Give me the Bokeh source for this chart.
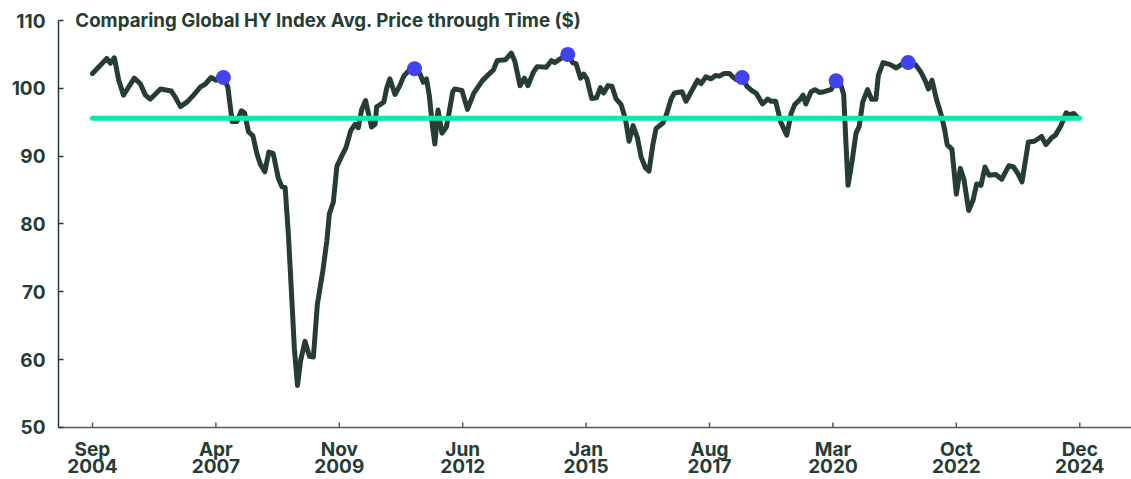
from bokeh.plotting import figure
from bokeh.models import Range1d, FixedTicker, ColumnDataSource
from bokeh.core.properties import value
from bokeh.embed import file_html
from bokeh.resources import INLINE

# ---- data (observation index along the axis, avg. price in $) ----
obs = [0.0, 2.0, 3.6, 4.5, 5.5, 6.6, 7.8, 9.1, 10.5, 12.0, 13.3, 14.5, 17.1, 19.8, 20.8,
       22.1, 23.8, 25.4, 27.1, 28.3, 29.8, 31.1, 32.9, 34.0, 35.1, 36.3, 37.4, 38.2, 39.2,
       40.3, 41.3, 42.1, 43.3, 44.3, 45.4, 46.7, 47.6, 48.4, 49.2, 50.1, 50.7, 51.5, 52.3,
       53.4, 54.5, 55.5, 56.5, 57.9, 58.9, 59.5, 60.5, 61.4, 62.6, 63.7, 64.9, 66.0, 66.8,
       67.6, 68.6, 69.6, 70.1, 71.0, 71.4, 72.3, 73.2, 73.9, 74.7, 76.0, 77.2, 78.2, 79.6,
       80.9, 82.3, 83.1, 83.9, 84.6, 85.4, 86.0, 86.8, 87.8, 88.9, 89.4, 90.5, 91.0, 92.8,
       94.2, 95.8, 97.9, 99.6, 100.7, 101.7, 103.7, 105.2, 106.1, 107.4, 108.5, 109.4,
       110.7, 111.7, 114.0, 115.3, 116.1, 117.4, 119.4, 120.6, 121.5, 122.6, 123.4, 124.2,
       125.4, 126.6, 127.6, 128.4, 129.5, 130.5, 131.5, 132.8, 133.9, 134.8, 135.8, 136.9,
       137.8, 138.9, 139.8, 140.8, 141.6, 143.3, 144.1, 145.4, 146.2, 148.1, 149.1, 150.4,
       152.0, 152.9, 154.1, 155.4, 156.5, 157.5, 158.7, 160.0, 160.8, 161.7, 163.2, 164.4,
       165.8, 166.7, 168.3, 169.6, 170.4, 171.6, 172.9, 174.4, 175.5, 176.4, 177.8, 178.5,
       179.2, 180.5, 181.5, 182.6, 183.8, 185.5, 186.8, 188.1, 188.7, 189.3, 189.8, 190.8,
       191.8, 192.6, 193.5, 194.7, 195.7, 196.8, 197.4, 198.6, 200.4, 201.9, 203.4, 204.9,
       206.7, 208.1, 209.3, 210.0, 210.9, 212.0, 213.3, 214.1, 214.7, 215.9, 217.0, 218.0,
       218.9, 220.1, 221.2, 222.1, 223.2, 224.2, 225.2, 226.9, 228.4, 230.2, 231.4, 232.5,
       233.5, 235.1, 236.6, 238.4, 239.5, 240.9, 241.9, 243.2, 244.6, 245.3, 246.5, 247.3]
price = [102.2, 103.4, 104.4, 103.7, 104.5, 101.2, 99.0, 100.2, 101.5, 100.7, 99.0, 98.4,
         99.9, 99.6, 98.7, 97.3, 98.0, 99.0, 100.2, 100.6, 101.6, 101.2, 101.6, 100.2, 95.1,
         95.1, 96.7, 96.4, 93.6, 93.0, 90.4, 88.9, 87.7, 90.6, 90.4, 86.7, 85.5, 85.4, 78.6,
         68.7, 61.8, 56.2, 59.9, 62.7, 60.5, 60.4, 68.2, 73.2, 77.6, 81.5, 83.2, 88.5, 90.0,
         91.3, 93.8, 94.7, 94.2, 96.8, 98.2, 95.6, 94.3, 94.7, 97.3, 97.6, 98.0, 100.0, 101.4,
         99.1, 100.4, 101.8, 102.7, 102.9, 102.1, 100.9, 101.4, 99.0, 94.5, 91.8, 96.8, 93.4,
         94.3, 95.8, 99.5, 99.9, 99.7, 96.9, 99.3, 101.1, 102.1, 102.7, 104.1, 104.2, 105.2,
         104.0, 100.4, 101.5, 100.4, 102.3, 103.2, 103.1, 104.1, 103.8, 104.3, 105.0, 103.8,
         103.6, 101.5, 102.1, 101.4, 98.5, 98.6, 100.1, 99.3, 100.4, 100.3, 98.5, 97.6, 95.4,
         92.2, 94.5, 92.7, 89.9, 88.3, 87.8, 91.8, 94.1, 94.9, 96.0, 98.5, 99.3, 99.5, 98.1,
         99.5, 101.2, 100.7, 101.7, 101.4, 101.9, 101.8, 102.2, 102.2, 101.7, 101.3, 101.6,
         100.3, 99.6, 99.3, 97.7, 98.4, 98.1, 98.1, 95.0, 93.1, 96.3, 97.6, 98.4, 99.0, 97.7,
         99.5, 99.8, 99.4, 99.5, 99.8, 101.1, 100.3, 99.1, 91.6, 85.7, 89.2, 93.4, 94.4, 98.0,
         99.8, 98.4, 98.4, 101.9, 103.8, 103.5, 103.0, 103.6, 103.8, 103.5, 102.4, 101.0,
         99.9, 101.2, 98.4, 95.9, 93.8, 91.7, 91.0, 84.4, 88.2, 86.6, 82.0, 83.5, 85.9, 85.7,
         88.4, 87.2, 87.3, 86.6, 88.6, 88.4, 87.4, 86.2, 92.1, 92.2, 92.9, 91.7, 92.7, 93.1,
         94.4, 96.4, 96.1, 96.3, 95.8]

average_price = 95.6
avg_span = [0, 248]

peak_obs = [32.9, 80.9, 119.4, 163.2, 186.8, 204.9]
peak_price = [101.6, 102.9, 105.0, 101.6, 101.1, 103.8]

tick_obs = [0, 31, 62, 93, 124, 155, 186, 217, 248]
tick_months = ["Sep", "Apr", "Nov", "Jun", "Jan", "Aug", "Mar", "Oct", "Dec"]
tick_years = ["2004", "2007", "2009", "2012", "2015", "2017", "2020", "2022", "2024"]
y_ticks = [50, 60, 70, 80, 90, 100, 110]
title_text = "Comparing Global HY Index Avg. Price through Time ($)"

DARK = "#263D33"
AXIS = "#4E5E56"
TEAL = "#08EBA9"
BLUE = "#4242EE"
FONT = "Inter"

# plot scale: 6.783 px per $ (50 -> 407px below 110), 3.988 px per observation
Y_LO, Y_HI = 50 - 52 / 6.783, 110 + 20 / 6.783
X_LO, X_HI = -8.53, 261.0
px_y = (Y_HI - Y_LO) / 479.0

p = figure(width=1131, height=479,
           x_range=Range1d(X_LO, X_HI), y_range=Range1d(Y_LO, Y_HI),
           x_axis_location=None,
           output_backend="svg", toolbar_location=None,
           min_border_left=58, min_border_right=0, min_border_top=0, min_border_bottom=0)

p.outline_line_color = None
p.xgrid.visible = False
p.ygrid.visible = False
p.background_fill_color = "white"

# y axis (real Bokeh axis, line limited to 50..110)
ya = p.yaxis[0]
ya.bounds = (y_ticks[0], y_ticks[-1])
ya.ticker = FixedTicker(ticks=y_ticks)
ya.major_tick_in = 5
ya.major_tick_out = 0
ya.minor_tick_line_color = None
ya.axis_line_color = DARK
ya.axis_line_width = 1.5
ya.major_tick_line_color = DARK
ya.major_tick_line_width = 1.5
ya.major_label_standoff = 13
ya.major_label_text_font = FONT
ya.major_label_text_font_style = "bold"
ya.major_label_text_font_size = "19px"
ya.major_label_text_color = DARK

# x axis baseline, inward ticks and two-row labels
p.segment(x0=[X_LO], y0=[y_ticks[0]], x1=[X_HI], y1=[y_ticks[0]], line_color=AXIS, line_width=1.5)
p.segment(x0=tick_obs, y0=[y_ticks[0]] * len(tick_obs), x1=tick_obs,
          y1=[y_ticks[0] + 5 * px_y] * len(tick_obs), line_color=AXIS, line_width=1.5)
p.text(x=tick_obs, y=[y_ticks[0] - 22 * px_y] * len(tick_obs), text=tick_months,
       text_font=value(FONT), text_font_style="bold", text_font_size="19px",
       text_color=DARK, text_align="center", text_baseline="middle")
p.text(x=tick_obs, y=[y_ticks[0] - 39 * px_y] * len(tick_obs), text=tick_years,
       text_font=value(FONT), text_font_style="bold", text_font_size="19px",
       text_color=DARK, text_align="center", text_baseline="middle")

# series
src = ColumnDataSource(dict(x=obs, y=price))
p.line("x", "y", source=src, line_color=DARK, line_width=5, line_join="round", line_cap="round")
p.line(avg_span, [average_price] * len(avg_span), line_color=TEAL, line_width=5, line_cap="round")
p.scatter(peak_obs, peak_price, size=15, fill_color=BLUE, line_color=None)

# title
p.text(x=[-4.3], y=[y_ticks[-1]], text=[title_text],
       text_font=value(FONT), text_font_style="bold", text_font_size="18.7px",
       text_color=DARK, text_align="left", text_baseline="middle")

open("out.html", "w").write(file_html(p, INLINE))
